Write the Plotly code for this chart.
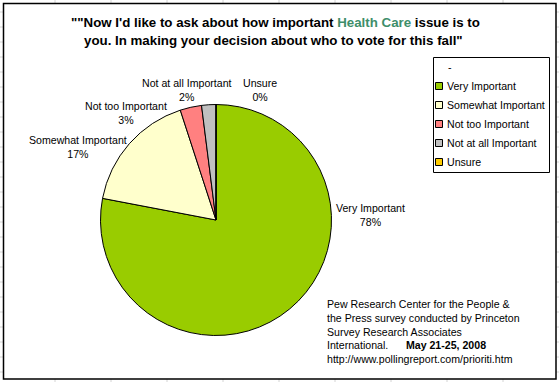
import plotly.graph_objects as go

W, H = 559, 382

labels = ["Very Important", "Somewhat Important", "Not too Important", "Not at all Important", "Unsure"]
values = [78, 17, 3, 2, 0]
colors = ["#99CC00", "#FFFFCC", "#FF8080", "#C0C0C0", "#FFCC00"]
# label anchor positions (pixels) for the data labels
label_pos = [(370, 215), (78, 147), (126, 113), (187, 90), (260, 90)]

title_line1 = '""Now I\'d like to ask about how important <span style="color:#3E8E6A">Health Care</span> issue is to'
title_line2 = 'you. In making your decision about who to vote for this fall"'
source_lines = [
    "Pew Research Center for the People &",
    "the Press survey conducted by Princeton",
    "Survey Research Associates",
    "International.      <b>May 21-25, 2008</b>",
    "http://www.pollingreport.com/prioriti.htm",
]

def px(x):
    return x / W

def py(y):
    return 1 - y / H

FONT = "Liberation Sans, Arial, sans-serif"
TFONT = "Liberation Sans Narrow, Arial Narrow, " + FONT
FS = 10.6

fig = go.Figure()

cx, cy, r = 216, 220, 115.5
fig.add_trace(go.Pie(
    labels=labels,
    values=values,
    sort=False,
    direction="clockwise",
    rotation=0,
    marker=dict(colors=colors, line=dict(color="black", width=1)),
    textinfo="none",
    hoverinfo="label+percent",
    showlegend=False,
    domain=dict(x=[px(cx - r), px(cx + r)], y=[py(cy + r), py(cy - r)]),
))

shapes = []
# spreadsheet gridlines in background
for gx in range(55, W, 56):
    shapes.append(dict(type="line", xref="paper", yref="paper", x0=px(gx), x1=px(gx), y0=0, y1=1,
                       line=dict(color="#d4d4d4", width=1), layer="below"))
for gy in range(12, H, 15):
    shapes.append(dict(type="line", xref="paper", yref="paper", x0=0, x1=1, y0=py(gy), y1=py(gy),
                       line=dict(color="#d4d4d4", width=1), layer="below"))
# chart area
shapes.append(dict(type="rect", xref="paper", yref="paper", x0=px(3.5), x1=px(556), y0=py(379), y1=py(3.5),
                   fillcolor="white", line=dict(color="black", width=1.5), layer="below"))
# legend box
shapes.append(dict(type="rect", xref="paper", yref="paper", x0=px(433.5), x1=px(549.5), y0=py(172.5), y1=py(57.5),
                   fillcolor="white", line=dict(color="black", width=1), layer="above"))

annotations = []
total = sum(values)
for lab, v, (lx, ly) in zip(labels, values, label_pos):
    annotations.append(dict(text=f"{lab}<br>{round(100 * v / total)}%", x=px(lx), y=py(ly),
                            xref="paper", yref="paper", showarrow=False, xanchor="center", yanchor="middle",
                            font=dict(family=FONT, size=FS, color="black")))

# title
annotations.append(dict(text="<b>" + title_line1 + "</b>", x=px(275), y=py(23), xref="paper", yref="paper",
                        showarrow=False, xanchor="center", yanchor="middle",
                        font=dict(family=TFONT, size=13.3, color="black")))
annotations.append(dict(text="<b>" + title_line2 + "</b>", x=px(273), y=py(41), xref="paper", yref="paper",
                        showarrow=False, xanchor="center", yanchor="middle",
                        font=dict(family=TFONT, size=13.3, color="black")))

# legend (manual, Excel style)
annotations.append(dict(text="-", x=px(446), y=py(67), xref="paper", yref="paper", showarrow=False,
                        xanchor="left", yanchor="middle", font=dict(family=FONT, size=FS, color="black")))
ly0, lstep = 86, 19
for i, (lab, col) in enumerate(zip(labels, colors)):
    yy = ly0 + i * lstep
    shapes.append(dict(type="rect", xref="paper", yref="paper", x0=px(435.5), x1=px(442.5),
                       y0=py(yy + 3.5), y1=py(yy - 3.5), fillcolor=col, line=dict(color="black", width=1),
                       layer="above"))
    annotations.append(dict(text=lab, x=px(445), y=py(yy), xref="paper", yref="paper", showarrow=False,
                            xanchor="left", yanchor="middle", font=dict(family=FONT, size=FS, color="black")))

# source text
annotations.append(dict(text="<br>".join(source_lines), x=px(325), y=py(331), xref="paper", yref="paper",
                        showarrow=False, xanchor="left", yanchor="middle", align="left",
                        font=dict(family=FONT, size=FS, color="black")))

fig.update_layout(
    width=W, height=H,
    margin=dict(l=0, r=0, t=0, b=0),
    paper_bgcolor="white",
    plot_bgcolor="white",
    shapes=shapes,
    annotations=annotations,
    showlegend=False,
)

fig.write_html("out.html", config={"displayModeBar": False},
               post_script="document.body.style.margin='0';document.body.style.overflow='hidden';")
